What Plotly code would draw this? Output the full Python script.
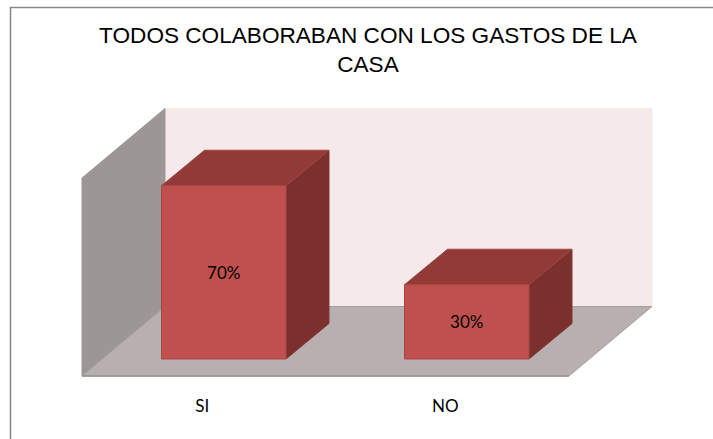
import plotly.graph_objects as go

categories = ["SI", "NO"]
values = [70, 30]
labels = ["70%", "30%"]
title = "TODOS COLABORABAN CON LOS GASTOS DE LA<br>CASA"
wall_top = 80

W, H = 713, 439
PX_X = 243.0      # pixels per category step
PX_Y = 2.475      # pixels per percent
X0_PX, Y0_PX = 223.75, 359.0   # pixel location of (first category, 0%)
xr = [-X0_PX / PX_X, (W - X0_PX) / PX_X]
yr = [(Y0_PX - H) / PX_Y, Y0_PX / PX_Y]

bar_w = 124.5 / PX_X
dx, dy = 43 / PX_X, 35.5 / PX_Y          # bar depth
fdx, fdy = 83 / PX_X, 69.5 / PX_Y        # floor depth
fl, fr, fy = (82 - X0_PX) / PX_X, (569 - X0_PX) / PX_X, -17 / PX_Y


def poly(fig, xs, ys, fill, line=None, width=1):
    fig.add_trace(go.Scatter(
        x=xs + xs[:1], y=ys + ys[:1], mode="lines", fill="toself", fillcolor=fill,
        line=dict(color=line or fill, width=width), hoverinfo="skip", showlegend=False))


fig = go.Figure()
# back wall
poly(fig, [fl + fdx, fr + fdx, fr + fdx, fl + fdx],
     [fy + fdy, fy + fdy, fy + fdy + wall_top, fy + fdy + wall_top], "#F5E9E9")
# side wall
poly(fig, [fl, fl + fdx, fl + fdx, fl],
     [fy, fy + fdy, fy + fdy + wall_top, fy + wall_top], "#9C9695")
# floor
poly(fig, [fl, fr, fr + fdx, fl + fdx], [fy, fy, fy + fdy, fy + fdy], "#B8B0B0", "#A5A09F")
fig.add_trace(go.Scatter(x=[fl, fr], y=[fy, fy], mode="lines",
                         line=dict(color="#989392", width=1.5),
                         hoverinfo="skip", showlegend=False))

for i, v in enumerate(values):
    l, r = i - bar_w / 2, i + bar_w / 2
    poly(fig, [r, r + dx, r + dx, r], [0, dy, v + dy, v], "#7B302E", "#853634")
    poly(fig, [l, r, r + dx, l + dx], [v, v, v + dy, v + dy], "#913A37", "#9C4441")
    poly(fig, [l, r, r, l], [0, 0, v, v], "#C0504D", "#A84643")

label_drop = 2 / PX_Y
fig.add_trace(go.Scatter(
    x=list(range(len(values))), y=[v / 2 - label_drop for v in values], mode="text", text=labels,
    textposition="middle center", textfont=dict(family="Lato", size=17, color="#000000"),
    hoverinfo="skip", showlegend=False))

fig.update_layout(
    width=W, height=H, autosize=False,
    margin=dict(l=0, r=0, t=0, b=0),
    paper_bgcolor="#FFFFFF", plot_bgcolor="rgba(0,0,0,0)",
    showlegend=False,
    title=dict(text=title, x=368 / W, xanchor="center", y=1 - 43 / H, yanchor="top",
               font=dict(family="Liberation Sans", size=22.6, color="#000000")),
    xaxis=dict(range=xr, showgrid=False, zeroline=False, showline=False,
               tickmode="array", tickvals=[i - dx / 2 for i in range(len(categories))],
               ticktext=categories, ticks="", anchor="free", position=1 - 394 / H,
               tickfont=dict(family="Lato", size=17, color="#000000"), fixedrange=True),
    yaxis=dict(range=yr, showgrid=False, zeroline=False, showline=False,
               showticklabels=False, fixedrange=True),
    shapes=[dict(type="rect", xref="paper", yref="paper",
                 x0=10.5 / W, x1=1.02, y0=-0.02, y1=1 - 7.5 / H,
                 line=dict(color="#868686", width=1.5), layer="below")],
)
fig.write_html("out.html", config=dict(displayModeBar=False),
               post_script="document.body.style.margin='0';document.body.style.overflow='hidden';")
